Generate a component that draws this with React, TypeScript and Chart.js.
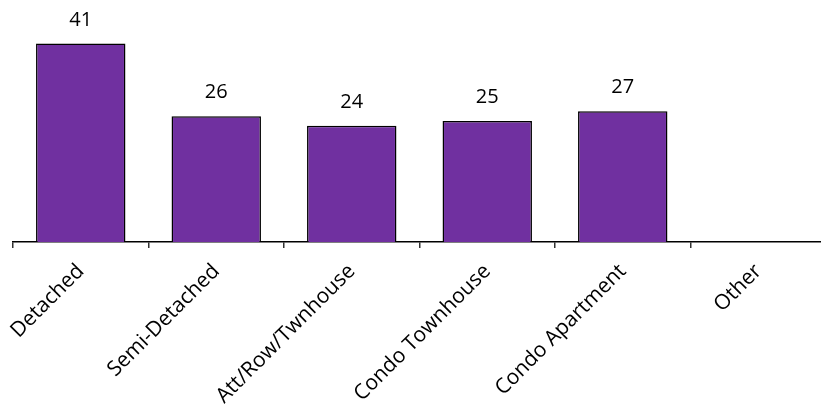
import React, { useEffect, useRef } from "react";
import { Chart, registerables } from "chart.js";

Chart.register(...registerables);

const categories: string[] = [
  "Detached",
  "Semi-Detached",
  "Att/Row/Twnhouse",
  "Condo Townhouse",
  "Condo Apartment",
  "Other",
];
const values: (number | null)[] = [41, 26, 24, 25, 27, null];

const FONT = "'Open Sans', 'DejaVu Sans', sans-serif";

const valueLabels = {
  id: "valueLabels",
  afterDatasetsDraw(chart: any) {
    const ctx = chart.ctx;
    const meta = chart.getDatasetMeta(0);
    ctx.save();
    ctx.font = `20px ${FONT}`;
    ctx.fillStyle = "#000";
    ctx.textAlign = "center";
    ctx.textBaseline = "alphabetic";
    meta.data.forEach((el: any, i: number) => {
      const v = values[i];
      if (v == null) return;
      ctx.fillText(String(v), el.x, el.y - 18);
    });
    ctx.restore();
  },
};

export default function App() {
  const ref = useRef<HTMLCanvasElement | null>(null);
  useEffect(() => {
    if (!ref.current) return;
    const chart = new Chart(ref.current, {
      type: "bar",
      data: {
        labels: categories,
        datasets: [
          {
            data: values,
            backgroundColor: "#7030A0",
            borderColor: "#000",
            borderWidth: 1.5,
            barPercentage: 0.66,
            categoryPercentage: 1,
          },
        ],
      },
      options: {
        animation: false,
        responsive: true,
        maintainAspectRatio: false,
        layout: { padding: { left: 13, right: 0, top: 0, bottom: 0 } },
        plugins: { legend: { display: false }, tooltip: { enabled: false } },
        scales: {
          y: { display: false, min: 0, max: 50 },
          x: {
            afterFit: (scale: any) => {
              scale.height = 409 - 242;
            },
            border: { display: true, color: "#000", width: 1.5 },
            grid: {
              drawOnChartArea: false,
              drawTicks: true,
              tickLength: 6,
              color: "#333",
              lineWidth: 1.5,
            },
            ticks: {
              minRotation: 45,
              maxRotation: 45,
              autoSkip: false,
              color: "#000",
              padding: 11,
              font: { family: FONT, size: 21 },
            },
          },
        },
      },
      plugins: [valueLabels],
    });
    return () => chart.destroy();
  }, []);
  return (
    <div
      style={{
        position: "fixed",
        left: 0,
        top: 0,
        width: 821,
        height: 409,
        overflow: "hidden",
        background: "#fff",
      }}
    >
      <div style={{ position: "relative", width: 826, height: 409 }}>
        <canvas ref={ref} />
      </div>
    </div>
  );
}
